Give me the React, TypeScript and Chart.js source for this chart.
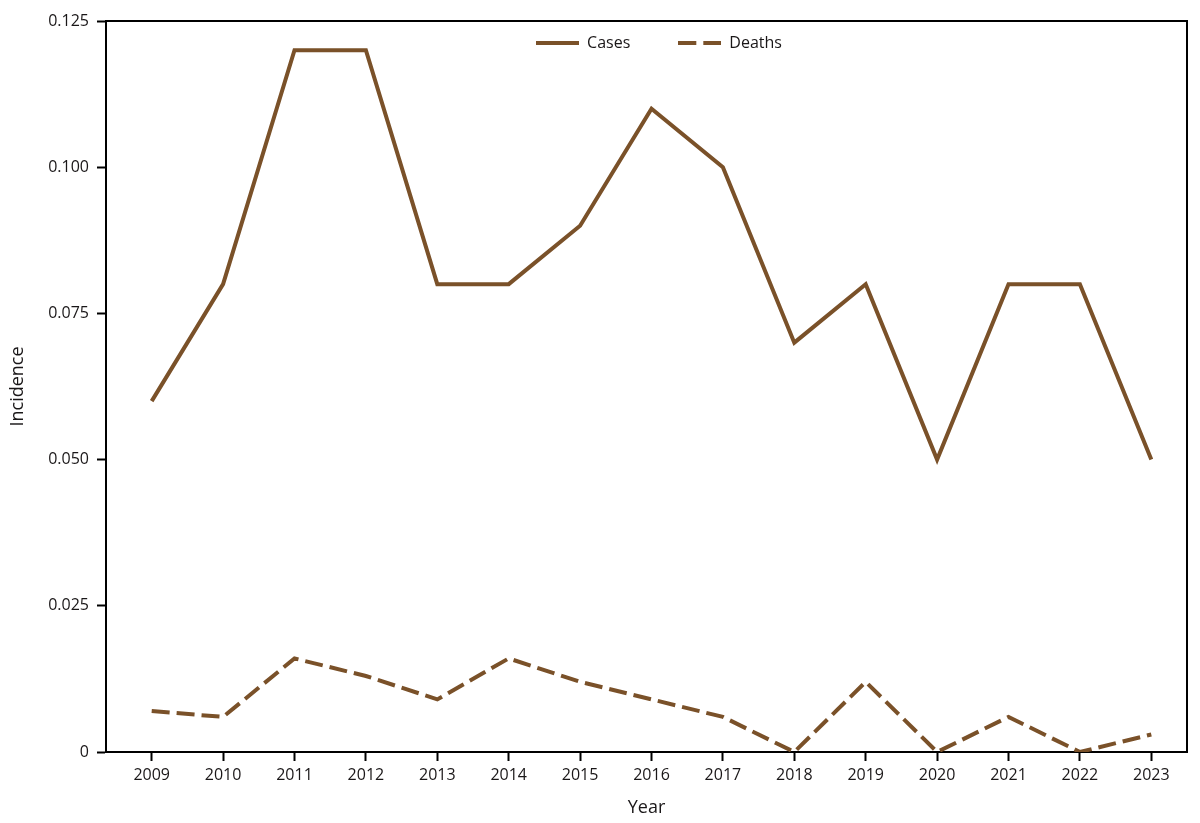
import React, { useEffect, useRef } from 'react';
import { Chart, registerables, Plugin } from 'chart.js';

Chart.register(...registerables);

const years = [2009, 2010, 2011, 2012, 2013, 2014, 2015, 2016, 2017, 2018, 2019, 2020, 2021, 2022, 2023];
const cases = [0.06, 0.08, 0.12, 0.12, 0.08, 0.08, 0.09, 0.11, 0.1, 0.07, 0.08, 0.05, 0.08, 0.08, 0.05];
const deaths = [0.007, 0.006, 0.016, 0.013, 0.009, 0.016, 0.012, 0.009, 0.006, 0, 0.012, 0, 0.006, 0, 0.003];
const yTickValues = [0, 0.025, 0.05, 0.075, 0.1, 0.125];
const yTickLabels = ['0', '0.025', '0.050', '0.075', '0.100', '0.125'];

const BROWN = '#7a5129';
const INK = '#1a1718';
const FONT = "'Open Sans', sans-serif";
const LEGEND_GAP = 48;
const LEGEND_FS = 16;
const DASH = [18, 7];

// little line sample used as the legend symbol (legend ignores borderDash with point styles)
function lineSample(dash: number[] | null) {
  const c = document.createElement('canvas');
  c.width = 43;
  c.height = 4;
  const g = c.getContext('2d')!;
  g.fillStyle = BROWN;
  if (!dash) {
    g.fillRect(0, 0, 43, 4);
  } else {
    for (let x = 0; x < 43; x += dash[0] + dash[1]) g.fillRect(x, 0, Math.min(dash[0], 43 - x), 4);
  }
  return c;
}

// top/right frame lines, and the legend moved inside the plot
const framePlugin: Plugin<'line'> = {
  id: 'frame',
  afterLayout(chart) {
    const legend: any = chart.legend;
    const area = chart.chartArea;
    if (!legend) return;
    legend.left = area.left + 25;
    legend.right = area.right;
    legend.top = area.top + 22 - LEGEND_GAP - LEGEND_FS / 2;
    legend.bottom = legend.top + 90;
  },
  beforeDatasetsDraw(chart) {
    const { ctx, chartArea: a } = chart;
    ctx.save();
    ctx.strokeStyle = '#000';
    ctx.lineWidth = 2;
    ctx.beginPath();
    ctx.moveTo(a.left, a.top);
    ctx.lineTo(a.right, a.top);
    ctx.lineTo(a.right, a.bottom);
    ctx.stroke();
    ctx.restore();
  },
};

export default function App() {
  const canvasRef = useRef<HTMLCanvasElement>(null);

  useEffect(() => {
    if (!canvasRef.current) return;
    const chart = new Chart(canvasRef.current, {
      type: 'line',
      data: {
        datasets: [
          {
            label: 'Cases',
            data: years.map((y, i) => ({ x: y, y: cases[i] })),
            borderColor: BROWN,
            backgroundColor: BROWN,
            borderWidth: 4,
            pointRadius: 0,
            pointStyle: lineSample(null),
            tension: 0,
          },
          {
            label: 'Deaths',
            data: years.map((y, i) => ({ x: y, y: deaths[i] })),
            borderColor: BROWN,
            backgroundColor: BROWN,
            borderWidth: 4,
            borderDash: DASH,
            pointRadius: 0,
            pointStyle: lineSample(DASH),
            tension: 0,
          },
        ],
      },
      options: {
        animation: false,
        responsive: true,
        maintainAspectRatio: false,
        layout: { padding: { top: 20, right: 13, bottom: 0, left: 0 } },
        plugins: {
          tooltip: { enabled: false },
          legend: {
            position: 'top',
            maxHeight: 1,
            labels: {
              usePointStyle: true,
              pointStyleWidth: 43,
              padding: LEGEND_GAP,
              color: INK,
              font: { family: FONT, size: LEGEND_FS },
            },
          },
        },
        scales: {
          x: {
            type: 'linear',
            min: 2008.36,
            max: 2023.5,
            afterBuildTicks: (axis: any) => {
              axis.ticks = years.map((v) => ({ value: v }));
            },
            afterFit: (axis: any) => {
              axis.height = 71;
            },
            grid: { display: true, drawOnChartArea: false, drawTicks: true, tickLength: 9, tickWidth: 2, tickColor: '#000' },
            border: { display: true, color: '#000', width: 2 },
            ticks: {
              color: INK,
              font: { family: FONT, size: 16 },
              padding: 5,
              maxRotation: 0,
              autoSkip: false,
              callback: (v: any) => String(v),
            },
            title: {
              display: true,
              text: 'Year',
              color: INK,
              font: { family: FONT, size: 18 },
              padding: { top: 0, bottom: 4 },
            },
          },
          y: {
            min: 0,
            max: 0.125,
            afterBuildTicks: (axis: any) => {
              axis.ticks = yTickValues.map((v) => ({ value: v }));
            },
            afterFit: (axis: any) => {
              axis.width = 106;
            },
            grid: { display: true, drawOnChartArea: false, drawTicks: true, tickLength: 9, tickWidth: 2, tickColor: '#000' },
            border: { display: true, color: '#000', width: 2 },
            ticks: {
              color: INK,
              font: { family: FONT, size: 16 },
              padding: 8,
              callback: (_v: any, i: number) => yTickLabels[i],
            },
            title: {
              display: true,
              text: 'Incidence',
              color: INK,
              font: { family: FONT, size: 18 },
              padding: { top: 7, bottom: 0 },
            },
          },
        },
      },
      plugins: [framePlugin],
    });
    return () => chart.destroy();
  }, []);

  return (
    <div style={{ position: 'absolute', left: 0, top: 0, width: 1200, height: 823, background: '#fff' }}>
      <canvas ref={canvasRef} />
    </div>
  );
}
